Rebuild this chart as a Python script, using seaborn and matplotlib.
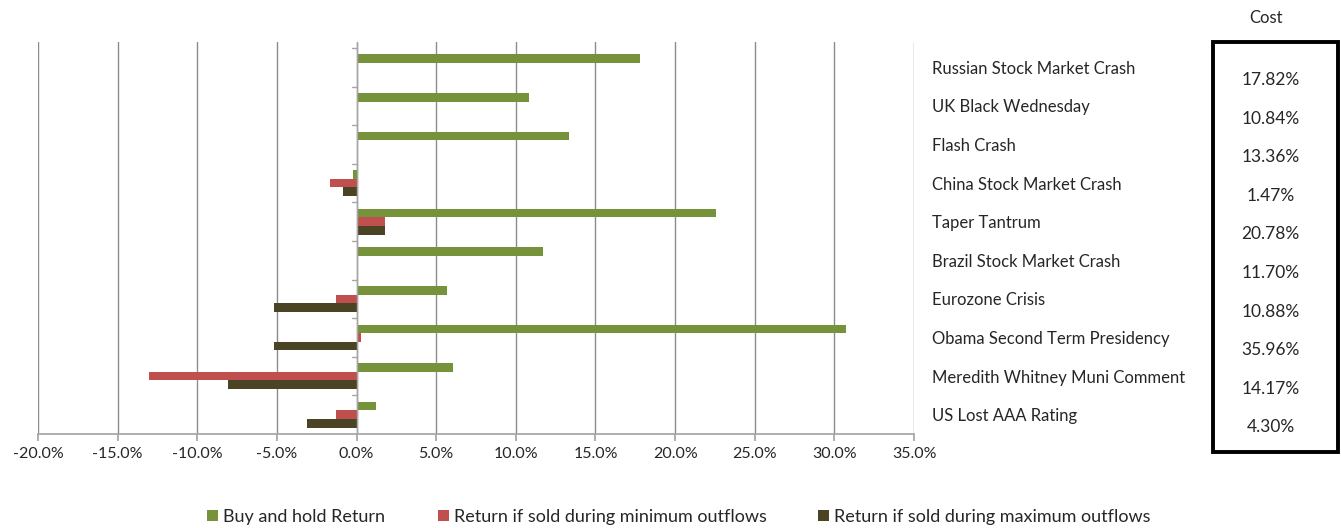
import pandas as pd
import matplotlib.pyplot as plt
import matplotlib.transforms as mtransforms
from matplotlib.patches import Rectangle
import seaborn as sns

# ======================================================
# DATA
# ======================================================
events = [
    "Russian Stock Market Crash",
    "UK Black Wednesday",
    "Flash Crash",
    "China Stock Market Crash",
    "Taper Tantrum",
    "Brazil Stock Market Crash",
    "Eurozone Crisis",
    "Obama Second Term Presidency",
    "Meredith Whitney Muni Comment",
    "US Lost AAA Rating",
]
buy_hold = [17.82, 10.84, 13.36, -0.20, 22.58, 11.70, 5.70, 30.76, 6.07, 1.20]
min_outflows = [0.0, 0.0, 0.0, -1.67, 1.80, 0.0, -1.30, 0.25, -13.00, -1.30]
max_outflows = [0.0, 0.0, 0.0, -0.85, 1.80, 0.0, -5.18, -5.20, -8.10, -3.10]
costs = ["17.82%", "10.84%", "13.36%", "1.47%", "20.78%",
         "11.70%", "10.88%", "35.96%", "14.17%", "4.30%"]

series = ["Buy and hold Return",
          "Return if sold during minimum outflows",
          "Return if sold during maximum outflows"]
colors = ["#76923A", "#C0504D", "#4A4424"]
xticks = list(range(-20, 40, 5))

df = pd.DataFrame({
    "event": events * 3,
    "series": [series[0]] * 10 + [series[1]] * 10 + [series[2]] * 10,
    "value": buy_hold + min_outflows + max_outflows,
})

# ======================================================
# PLOT
# ======================================================
sns.set_theme(style="white")
plt.rcParams['font.family'] = ['Lato', 'DejaVu Sans']

fig = plt.figure(figsize=(13.41, 5.28), dpi=100)
ax = fig.add_axes([0.0283, 0.178, 0.6533, 0.7424])

sns.barplot(
    data=df, y="event", x="value", hue="series",
    order=events, hue_order=series, palette=colors,
    orient="h", width=0.67, saturation=1, edgecolor="none",
    errorbar=None, legend=True, ax=ax,
)

ax.set_xlim(-20, 35)
ax.set_ylim(len(events) - 0.5, -0.655)
ax.set_xticks(xticks)
ax.set_xticklabels([f"{t:.1f}%" for t in xticks], fontsize=11.5)
ax.set_xlabel("")
ax.set_ylabel("")

# vertical gridlines
ax.grid(axis="x", color="#8c8c8c", lw=1)
ax.set_axisbelow(True)

# zero axis with small category ticks
ax.axvline(0, color="#a6a6a6", lw=1, zorder=1)
for i in range(len(events) + 1):
    ax.plot([-0.3, 0], [i - 0.5, i - 0.5], color="#a6a6a6", lw=1)

for s in ["top", "right", "left"]:
    ax.spines[s].set_visible(False)
ax.spines["bottom"].set_color("#a6a6a6")
ax.tick_params(axis="x", bottom=True, length=5, color="#a6a6a6", pad=4)

# category labels on the right
ax.yaxis.tick_right()
ax.tick_params(axis="y", length=0, pad=13, labelsize=12)

# legend: Excel spaces the entries unevenly, so one small legend per entry
handles, labels = ax.get_legend_handles_labels()
ax.get_legend().remove()
legend_x = [207 / 1341, 438 / 1341, 818 / 1341]
for h, l, lx in zip(handles, labels, legend_x):
    fig.legend([h], [l], loc="center left", bbox_to_anchor=(lx, 0.021),
               frameon=False, fontsize=13, handlelength=0.6, handleheight=0.6,
               handletextpad=0.3, borderpad=0, borderaxespad=0)

# cost box
fig.add_artist(Rectangle((0.9046, 0.144), 0.0932, 0.7765, transform=fig.transFigure,
                         fill=False, edgecolor="black", lw=2.8))
fig.text(0.9440, 0.965, "Cost", ha="center", va="center", fontsize=12)
trans = mtransforms.blended_transform_factory(fig.transFigure, ax.transData)
for i, c in enumerate(costs):
    fig.text(0.9475, i + 0.33, c, transform=trans, ha="center", va="center", fontsize=12.5)

fig.savefig("out.png", dpi=100)
